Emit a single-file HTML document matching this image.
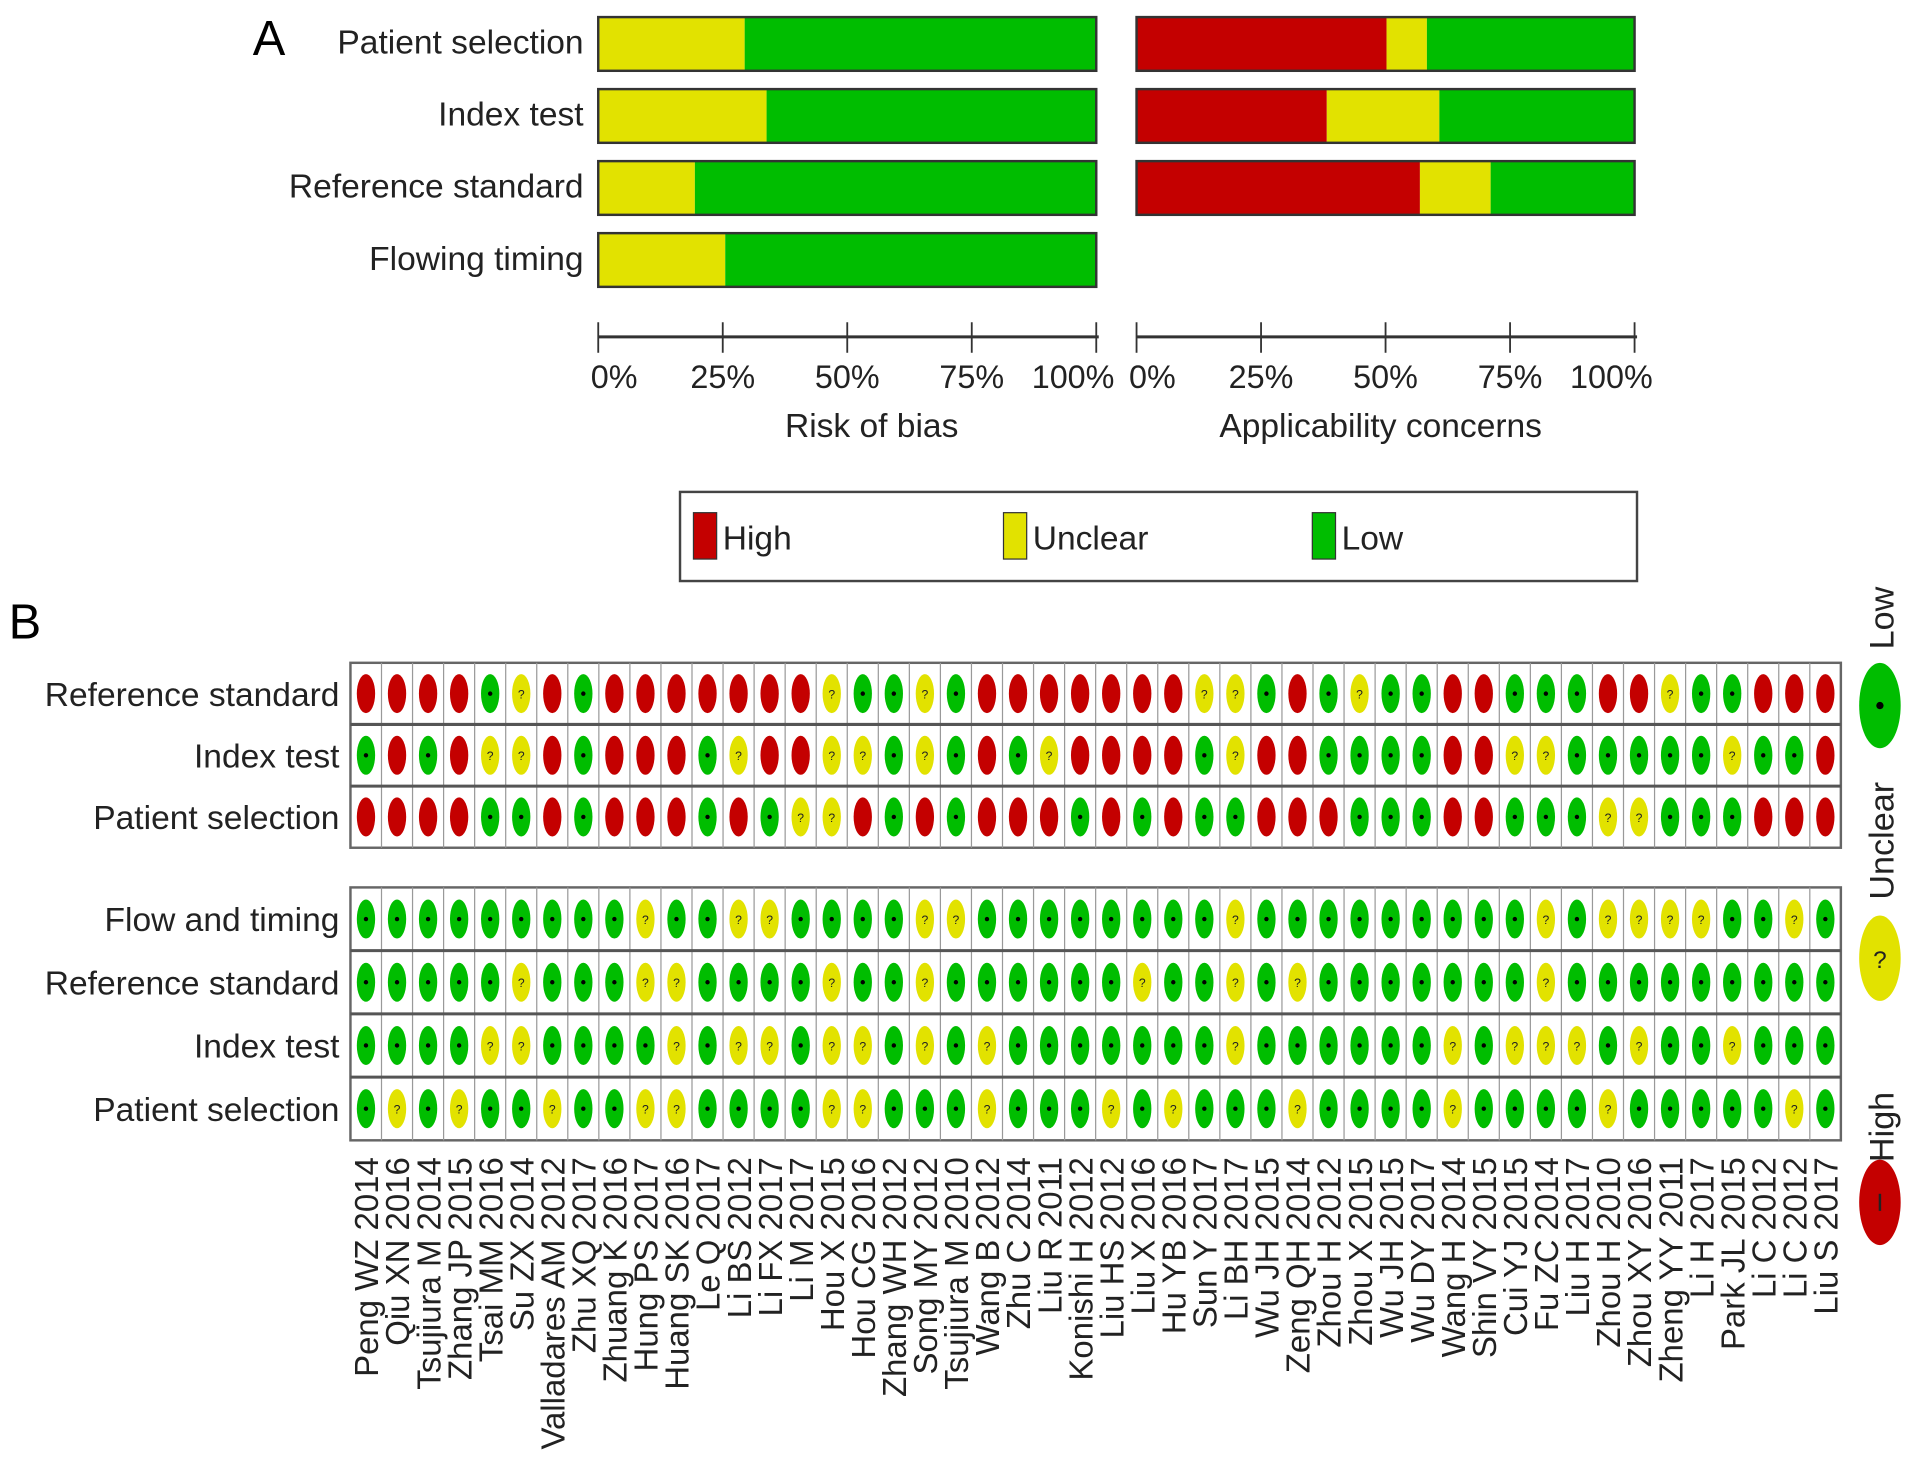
<!DOCTYPE html>
<html><head><meta charset="utf-8"><style>
html,body{margin:0;padding:0;background:#fff;}
svg{display:block;font-family:"Liberation Sans",Arial,sans-serif;}
</style></head><body>
<svg id="chart" width="1913" height="1466" viewBox="0 0 1567 1201" xmlns="http://www.w3.org/2000/svg"></svg>
<script>
const domainsA = ["Patient selection","Index test","Reference standard","Flowing timing"];
const robUnclear = [29.4, 33.8, 19.4, 25.5];
const robHigh = [0, 0, 0, 0];
const appDomains = ["Patient selection","Index test","Reference standard"];
const appHigh = [50.2, 38.2, 56.9];
const appUnclear = [8.1, 22.6, 14.2];
const tickLabels = ["0%","25%","50%","75%","100%"];
const studies = ["Peng WZ 2014","Qiu XN 2016","Tsujiura M 2014","Zhang JP 2015","Tsai MM 2016","Su ZX 2014","Valladares AM 2012","Zhu XQ 2017","Zhuang K 2016","Hung PS 2017","Huang SK 2016","Le Q 2017","Li BS 2012","Li FX 2017","Li M 2017","Hou X 2015","Hou CG 2016","Zhang WH 2012","Song MY 2012","Tsujiura M 2010","Wang B 2012","Zhu C 2014","Liu R 2011","Konishi H 2012","Liu HS 2012","Liu X 2016","Hu YB 2016","Sun Y 2017","Li BH 2017","Wu JH 2015","Zeng QH 2014","Zhou H 2012","Zhou X 2015","Wu JH 2015","Wu DY 2017","Wang H 2014","Shin VY 2015","Cui YJ 2015","Fu ZC 2014","Liu H 2017","Zhou H 2010","Zhou XY 2016","Zheng YY 2011","Li H 2017","Park JL 2015","Li C 2012","Li C 2012","Liu S 2017"];
const appRowNames = ["Reference standard","Index test","Patient selection"];
const appRef   = "RRRRGURGRRRRRRRUGGUGRRRRRRRUUGRGUGGRRGGGRRUGGRRR";
const appIndex = "GRGRUURGRRRGURRUUGUGRGURRRRGURRGGGGRRUUGGGGGUGGR";
const appPat   = "RRRRGGRGRRRGRGUURGRGRRRGRGRGGRRRGGGRRGGGUUGGGRRR";
const robRowNames = ["Flow and timing","Reference standard","Index test","Patient selection"];
const robFlow  = "GGGGGGGGGUGGUUGGGGUUGGGGGGGGUGGGGGGGGGUGUUUUGGUG";
const robRef   = "GGGGGUGGGUUGGGGUGGUGGGGGGUGGUGUGGGGGGGUGGGGGGGGG";
const robIndex = "GGGGUUGGGGUGUUGUUGUGUGGGGGGGUGGGGGGUGUUUGUGGUGGG";
const robPat   = "GUGUGGUGGUUGGGGUUGGGUGGGUGUGGGUGGGGUGGGGUGGGGGUG";

const NS="http://www.w3.org/2000/svg";
const svg=document.getElementById('chart');
const COL={R:"#c40000",U:"#e2e200",G:"#00bd00"};
function mk(tag,attrs,parent,txt){const e=document.createElementNS(NS,tag);for(const k in attrs)e.setAttribute(k,attrs[k]);if(txt!==undefined)e.textContent=txt;(parent||svg).appendChild(e);return e;}

// Panel A
let t=mk('text',{x:207,y:45,'font-size':40},svg,'A');


const rowY=[14,73,132,191], barH=44;
const x1=v=>490+v/100*408, x2=v=>931+v/100*408;
domainsA.forEach((d,i)=>{
  const l=mk('text',{x:478,y:rowY[i]+30,'font-size':27.5,'text-anchor':'end',fill:'#222'},svg,d);
  
  
  const segs=[[0,robHigh[i],COL.R],[robHigh[i],robHigh[i]+robUnclear[i],COL.U],[robHigh[i]+robUnclear[i],100,COL.G]];
  segs.forEach(s=>{if(s[1]>s[0]){const r=mk('rect',{x:x1(s[0]),y:rowY[i],width:x1(s[1])-x1(s[0]),height:barH,fill:s[2]});
    
    }});
  mk('rect',{x:490,y:rowY[i],width:408,height:barH,fill:'none',stroke:'#333','stroke-width':2});
});
appDomains.forEach((d,i)=>{
  const segs=[[0,appHigh[i],COL.R],[appHigh[i],appHigh[i]+appUnclear[i],COL.U],[appHigh[i]+appUnclear[i],100,COL.G]];
  segs.forEach(s=>{if(s[1]>s[0]){const r=mk('rect',{x:x2(s[0]),y:rowY[i],width:x2(s[1])-x2(s[0]),height:barH,fill:s[2]});
    
    }});
  mk('rect',{x:931,y:rowY[i],width:408,height:barH,fill:'none',stroke:'#333','stroke-width':2});
});
[[x1,714,'Risk of bias'],[x2,1131,'Applicability concerns']].forEach(a=>{
  const f=a[0];
  mk('line',{x1:f(0),x2:f(100.5),y1:276,y2:276,stroke:'#333','stroke-width':2.5});
  tickLabels.forEach((tl,k)=>{
    const v=k*25;
    mk('line',{x1:f(v),x2:f(v),y1:264,y2:289,stroke:'#333','stroke-width':1.5});
    const tt=mk('text',{x:f(v)+ (k==0?13:k==4?-19:0),y:318,'font-size':26.5,'text-anchor':'middle',fill:'#222'},svg,tl);
    
    
  });
  const at=mk('text',{x:a[1],y:358,'font-size':27.5,'text-anchor':'middle',fill:'#222'},svg,a[2]);
  
  
});
// legend
const lg=mk('rect',{x:557,y:403,width:784,height:73,fill:'#fff',stroke:'#444','stroke-width':2});


[[568,'High',COL.R],[822,'Unclear',COL.U],[1075,'Low',COL.G]].forEach(e=>{
  const sw=mk('rect',{x:e[0],y:420,width:19,height:38,fill:e[2],stroke:'#333','stroke-width':1});
  
  
  const lt=mk('text',{x:e[0]+24,y:450,'font-size':27.5,fill:'#222'},svg,e[1]);
  
  
});

// Panel B
t=mk('text',{x:7,y:523,'font-size':40},svg,'B');


const gx0=287, gx1=1508, cw=(gx1-gx0)/studies.length;
const colX=i=>gx0+cw*(i+0.5);
function block(names,rows,top,rh,nm){
  const h=rh*rows.length;
  mk('rect',{x:gx0,y:top,width:gx1-gx0,height:h,fill:'#fff',stroke:'#666','stroke-width':2});
  for(let i=1;i<studies.length;i++)mk('line',{x1:gx0+cw*i,x2:gx0+cw*i,y1:top,y2:top+h,stroke:'#999','stroke-width':1});
  rows.forEach((r,j)=>{
    const cy=top+rh*(j+0.5);
    if(j>0)mk('line',{x1:gx0,x2:gx1,y1:top+rh*j,y2:top+rh*j,stroke:'#555','stroke-width':2.5});
    const lab=mk('text',{x:278,y:cy+10,'font-size':27.5,'text-anchor':'end',fill:'#222'},svg,names[j]);
    
    
    r.split('').forEach((c,i)=>{
      const el=mk('ellipse',{cx:colX(i),cy:cy,rx:7.5,ry:16,fill:COL[c]});
      
      
      if(c=='G')mk('circle',{cx:colX(i),cy:cy,r:1.8,fill:'#000'});
      if(c=='U')mk('text',{x:colX(i),y:cy+4,'font-size':10,'text-anchor':'middle',fill:'#222'},svg,'?');
    });
  });
}
block(appRowNames,[appRef,appIndex,appPat],543,50.5,'applicability');
block(robRowNames,[robFlow,robRef,robIndex,robPat],727,51.8,'risk');
studies.forEach((s,i)=>{
  const x=colX(i)+10;
  const st=mk('text',{x:x,y:948,'font-size':27,'text-anchor':'end',fill:'#222',transform:`rotate(-90 ${x} 948)`},svg,s);
  
  
});
// right key
[[532,'Low',578,COL.G],[737,'Unclear',785,COL.U],[952,'High',985,COL.R]].forEach(k=>{
  const kt=mk('text',{x:1551,y:k[0],'font-size':28,fill:'#222',transform:`rotate(-90 1551 ${k[0]})`},svg,k[1]);
  
  
  const ke=mk('ellipse',{cx:1540,cy:k[2],rx:17,ry:35,fill:k[3]});
  
  
});
mk('circle',{cx:1540,cy:578,r:3,fill:'#000'});
mk('text',{x:1540,y:793,'font-size':20,'text-anchor':'middle',fill:'#222'},svg,'?');
mk('line',{x1:1540,x2:1540,y1:978,y2:992,stroke:'#222','stroke-width':2});
</script>
</body></html>
